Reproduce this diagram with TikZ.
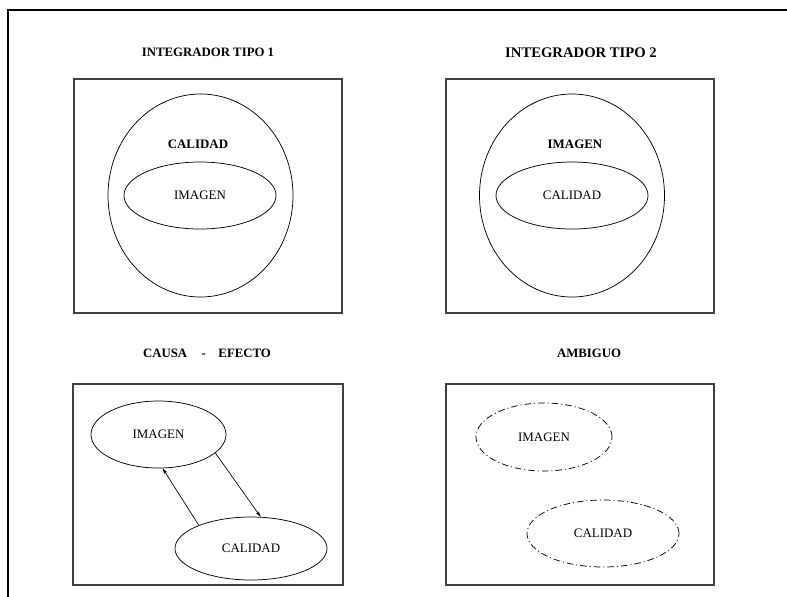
\documentclass[tikz,border=0pt]{standalone}
\usepackage{fontspec}
\setmainfont{Liberation Serif}
\usetikzlibrary{shapes.geometric,arrows.meta}
\tikzset{
  frame/.style={line width=0.9pt, draw=black},
  panel/.style={line width=0.8pt, draw=black!75},
  ttl/.style={font=\fontsize{9.6}{11}\selectfont\bfseries, inner sep=0pt},
  ttlbig/.style={font=\fontsize{11}{13}\selectfont\bfseries, inner sep=0pt},
  lbl/.style={font=\fontsize{9.7}{11}\selectfont, inner sep=0pt},
  lblb/.style={font=\fontsize{9.7}{11}\selectfont\bfseries, inner sep=0pt},
  ell/.style={ellipse, draw=black, line width=0.55pt, inner sep=0pt, font=\fontsize{9.7}{11}\selectfont},
  dell/.style={ell, dash pattern=on 5pt off 2.2pt on 0.8pt off 2.2pt},
  conn/.style={line width=0.5pt, -{Stealth[length=4.5pt,width=2.6pt]}}
}
\begin{document}
\begin{tikzpicture}[x=0.75pt,y=-0.75pt]
\useasboundingbox (0,0) rectangle (787,596);
\clip (0,0) rectangle (787,596);
% outer frame (cut at right and bottom)
\draw[frame] (8,600) -- (8,10) -- (790,10);
% panels
\draw[panel] (74,79) rectangle (342,313);
\draw[panel] (446,79) rectangle (714,313);
\draw[panel] (73,384) rectangle (343,585);
\draw[panel] (446,384) rectangle (714,585);
% titles
\node[ttl] (t1) at (208,52) {INTEGRADOR TIPO 1};
\node[ttlbig] (t2) at (581,53) {INTEGRADOR TIPO 2};
\node[ttl] (t3) at (207,353) {CAUSA\hspace{10.8pt}-\hspace{9.5pt}EFECTO};
\node[ttl] (t4) at (589,353) {AMBIGUO};
% integrador tipo 1
\node[ell, minimum width=138.75pt, minimum height=152.25pt] (o1) at (200.5,195.5) {};
\node[lblb] (o1l) at (198,144) {CALIDAD};
\node[ell, minimum width=114pt, minimum height=50.25pt] (i1) at (200,195.5) {IMAGEN};
% integrador tipo 2
\node[ell, minimum width=138.75pt, minimum height=152.25pt] (o2) at (572,195.5) {};
\node[lblb] (o2l) at (575,144) {IMAGEN};
\node[ell, minimum width=114pt, minimum height=50.25pt] (i2) at (572,195.5) {CALIDAD};
% causa - efecto
\node[ell, minimum width=101.25pt, minimum height=50.25pt] (ce1) at (158.5,434.5) {IMAGEN};
\node[ell, minimum width=114pt, minimum height=47.25pt] (ce2) at (251,548.5) {CALIDAD};
\draw[conn] (ce1.-18) -- (ce2.73);
\draw[conn] (ce2.156) -- (ce1.-83);
% ambiguo
\node[dell, minimum width=102pt, minimum height=51pt] (a1) at (544,437) {IMAGEN};
\node[dell, minimum width=114pt, minimum height=50.25pt] (a2) at (603,533.5) {CALIDAD};
\end{tikzpicture}
\end{document}
